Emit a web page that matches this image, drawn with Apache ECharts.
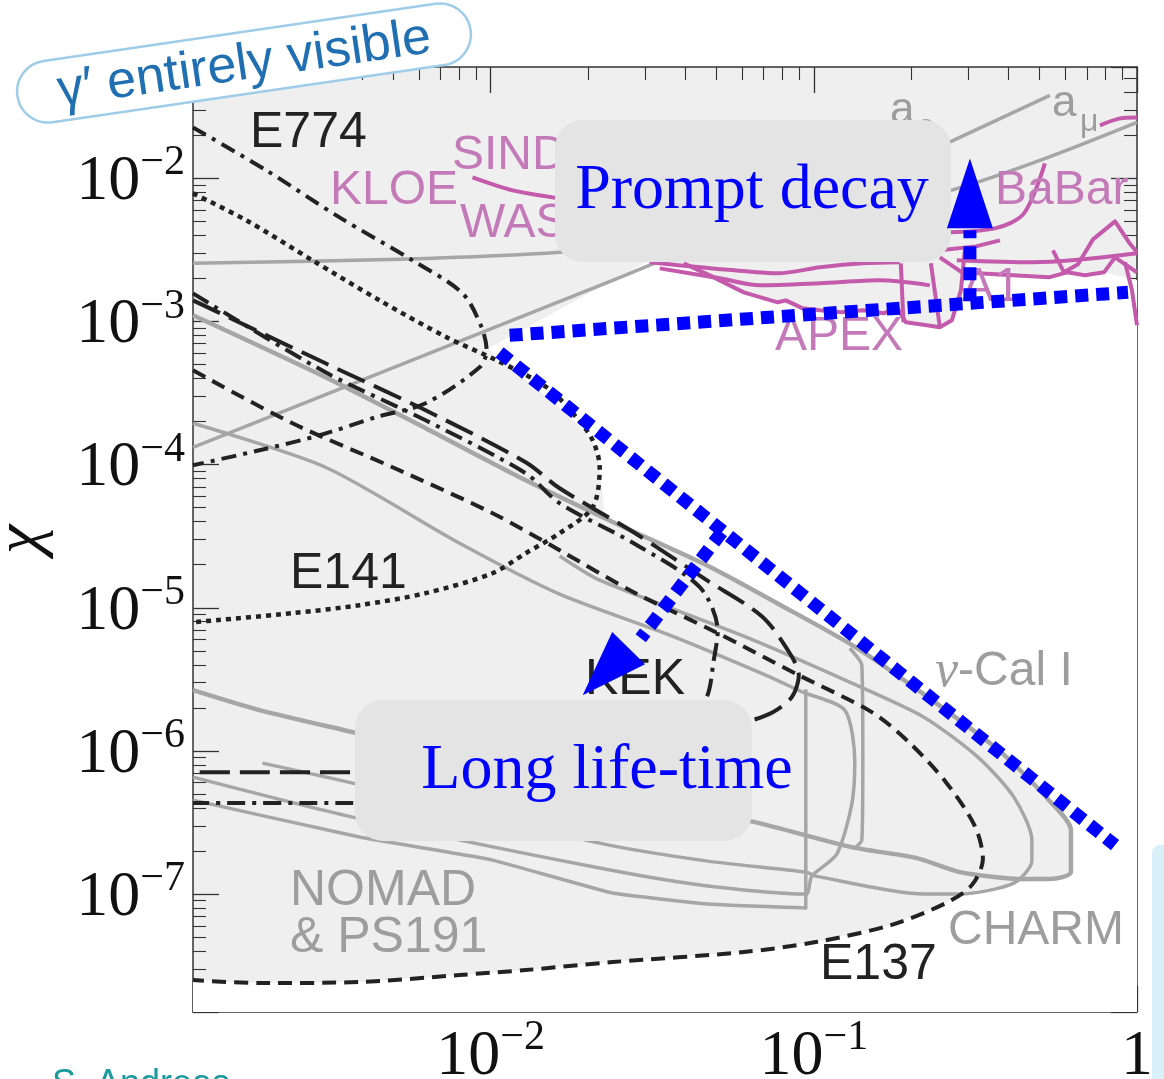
<!DOCTYPE html>
<html><head><meta charset="utf-8">
<script src="https://cdn.jsdelivr.net/npm/echarts@6/dist/echarts.min.js"></script>
<style>html,body{margin:0;padding:0;background:#fff;}#c{width:1164px;height:1079px;}</style>
</head><body><div id="c"></div>
<script>
// ---------- axes ----------
const xRange = [1.2e-3, 1];
const yRange = [1.5e-8, 0.06];
const xTickValues = [0.01, 0.1, 1];
const xTickLabels = [['10', '\u22122'], ['10', '\u22121'], ['1', '']];
const yTickValues = [1e-7, 1e-6, 1e-5, 1e-4, 1e-3, 1e-2];
const yTickLabels = [['10', '\u22127'], ['10', '\u22126'], ['10', '\u22125'], ['10', '\u22124'], ['10', '\u22123'], ['10', '\u22122']];
const yAxisTitle = '\u03c7';

// ---------- allowed (white) region ----------
const allowedRegion = [[9.86e-3,6.5e-4],[3.02e-2,2.591e-3],[3.958e-2,2.55e-3],[4.764e-2,2.102e-3],[6.072e-2,1.599e-3],[7.737e-2,1.362e-3],[9.246e-2,1.236e-3],[0.1221,1.159e-3],[0.1418,1.197e-3],[0.1647,1.141e-3],[0.1807,1.256e-3],[0.1927,9.87e-4],[0.2238,9.41e-4],[0.2455,9.11e-4],[0.2674,1.019e-3],[0.2852,1.651e-3],[0.2934,2.591e-3],[0.3766,2.102e-3],[0.534,2.036e-3],[0.6071,2.206e-3],[0.7904,2.206e-3],[1,1.94e-3],[1,1.5e-8],[1.2e-3,1.5e-8],[1.2e-3,2.509e-8],[1.927e-3,2.39e-8],[3.93e-3,2.429e-8],[8.017e-3,2.72e-8],[1.284e-2,2.946e-8],[2.386e-2,3.35e-8],[6.072e-2,3.936e-8],[0.1022,4.62e-8],[0.1732,6.07e-8],[0.2563,8.65e-8],[0.2831,1.0e-7],[0.416,1.193e-7],[0.5378,1.273e-7],[0.6247,1.424e-7],[0.6247,2.798e-7],[0.534,4.532e-7],[0.3793,9.81e-7],[0.2254,2.375e-6],[0.133,5.393e-6],[7.904e-2,1.043e-5],[4.663e-2,1.983e-5],[2.893e-2,3.162e-5],[2.254e-2,4.43e-5],[2.175e-2,9.59e-5],[2.069e-2,1.48e-4],[1.635e-2,2.517e-4],[1.284e-2,3.885e-4],[1.044e-2,5.623e-4]];

// ---------- black beam-dump contours ----------
const e774 = [[1.2e-3,2.27e-2],[2.025e-3,1.137e-2],[3.408e-3,5.34e-3],[5.735e-3,2.676e-3],[8.19e-3,1.573e-3],[9.38e-3,9.11e-4],[9.72e-3,6.29e-4],[9.245e-3,4.787e-4],[6.293e-3,2.684e-4],[4.406e-3,2.143e-4],[2.955e-3,1.604e-4],[1.927e-3,1.261e-4],[1.2e-3,9.9e-5]];
const e141 = [[1.2e-3,7.857e-3],[1.756e-3,5.089e-3],[2.811e-3,2.676e-3],[4.531e-3,1.406e-3],[7.308e-3,7.76e-4],[1.044e-2,5.358e-4],[1.491e-2,3.472e-4],[1.82e-2,2.213e-4],[2.069e-2,1.48e-4],[2.175e-2,9.59e-5],[2.069e-2,5.042e-5],[1.635e-2,3.318e-5],[1.284e-2,2.406e-5],[1.014e-2,1.744e-5],[6.293e-3,1.265e-5],[3.93e-3,1.043e-5],[2.438e-3,9.17e-6],[1.2e-3,7.93e-6]];
const e137 = [[1.2e-3,4.56e-4],[2.438e-3,1.945e-4],[4.973e-3,9.59e-5],[1.014e-2,4.578e-5],[1.635e-2,2.525e-5],[2.771e-2,1.285e-5],[4.902e-2,6.865e-6],[8.987e-2,3.382e-6],[0.1512,1.866e-6],[0.1968,1.152e-6],[0.2563,6.05e-7],[0.315,2.985e-7],[0.3336,1.755e-7],[0.3084,1.156e-7],[0.2563,8.65e-8],[0.1732,6.07e-8],[0.1014,4.62e-8],[6.072e-2,3.936e-8],[2.386e-2,3.35e-8],[1.284e-2,2.946e-8],[8.017e-3,2.72e-8],[3.93e-3,2.429e-8],[1.927e-3,2.39e-8],[1.2e-3,2.509e-8]];
const kek = [[1.2e-3,1.406e-3],[3.084e-3,5.105e-4],[6.293e-3,2.398e-4],[1.284e-2,1.039e-4],[1.635e-2,6.84e-5],[2.771e-2,3.372e-5],[4.663e-2,1.559e-5],[6.902e-2,8.74e-6],[8.31e-2,5.057e-6],[8.987e-2,3.382e-6],[8.55e-2,2.375e-6],[7.466e-2,1.866e-6],[6.072e-2,1.563e-6],[4.437e-2,1.229e-6],[2.175e-2,9.35e-7],[1.066e-2,7.96e-7],[3.74e-3,7.11e-7],[1.2e-3,7.11e-7]];
const orsay = [[1.2e-3,1.573e-3],[3.084e-3,4.418e-4],[6.293e-3,2.042e-4],[1.284e-2,8.71e-5],[1.635e-2,5.375e-5],[2.771e-2,2.825e-5],[4.437e-2,1.393e-5],[5.044e-2,6.865e-6],[4.902e-2,4.305e-6],[4.663e-2,2.375e-6],[4.131e-2,1.836e-6],[2.175e-2,8.63e-7],[1.066e-2,5.32e-7],[3.74e-3,4.319e-7],[1.2e-3,4.319e-7]];

// ---------- grey contours ----------
const nuCal = [[1.2e-3,1.105e-3],[3.084e-3,4.076e-4],[6.293e-3,1.795e-4],[1.284e-2,7.78e-5],[2.508e-2,3.774e-5],[4.663e-2,1.983e-5],[7.904e-2,1.043e-5],[0.133,5.393e-6],[0.2254,2.375e-6],[0.3793,9.81e-7],[0.534,4.532e-7],[0.6247,2.798e-7],[0.6247,1.424e-7],[0.5378,1.273e-7],[0.4469,1.273e-7],[0.2831,1.424e-7],[0.2084,1.784e-7],[0.1311,2.129e-7],[6.566e-2,3.183e-7],[2.175e-2,5.32e-7],[3.74e-3,1.353e-6],[1.927e-3,1.928e-6],[1.2e-3,2.658e-6]];
const nuCalEdge = [[0.1292,5.22e-6],[0.1408,3.973e-6],[0.1418,8.63e-7],[0.1408,2.383e-7],[0.1339,2.096e-7]];
const charm = [[1.635e-2,2.3e-5],[2.175e-2,1.559e-5],[6.072e-2,6.334e-6],[0.1311,2.975e-6],[0.2191,1.722e-6],[0.3219,9.05e-7],[0.416,4.757e-7],[0.4729,2.383e-7],[0.4729,1.699e-7],[0.416,1.193e-7],[0.2831,1.0e-7],[0.2191,1.0e-7],[0.1014,1.335e-7],[9.445e-2,1.424e-7],[4.695e-2,1.699e-7],[2.175e-2,2.27e-7],[3.74e-3,5.96e-7],[1.968e-3,8.22e-7]];
const ps191 = [[1.2e-3,1.945e-4],[3.084e-3,9.59e-5],[8.017e-3,2.825e-5],[1.635e-2,1.245e-5],[3.582e-2,6.437e-6],[7.102e-2,3.382e-6],[9.246e-2,2.574e-6],[0.1247,1.928e-6],[0.1339,8.49e-7],[0.1311,4.25e-7],[0.1178,1.902e-7],[9.858e-2,1.335e-7],[9.445e-2,1.0e-7],[4.695e-2,1.137e-7],[2.175e-2,1.519e-7],[3.74e-3,3.449e-7],[1.2e-3,6.56e-7]];
const nomad = [[1.2e-3,4.532e-7],[3.93e-3,2.501e-7],[1.014e-2,1.727e-7],[2.386e-2,1.016e-7],[4.695e-2,8.51e-8],[9.445e-2,7.98e-8],[9.445e-2,2.03e-7],[9.445e-2,8.63e-7],[9.445e-2,2.701e-6]];
const aE = [[1.2e-3,1.323e-4],[2.386e-2,1.94e-3],[0.2581,1.756e-2],[0.5378,3.8e-2]];
const aMu = [[1.2e-3,2.55e-3],[5.227e-3,2.72e-3],[1.635e-2,3.042e-3],[4.437e-2,3.873e-3],[0.1292,5.787e-3],[0.2655,8.245e-3],[0.5008,1.335e-2],[1,2.461e-2]];

// ---------- pink (visible-decay) contours ----------
const pinkSind = [[8.79e-3,1.016e-2],[1.17e-2,8.245e-3],[1.556e-2,7.37e-3],[2.175e-2,6.48e-3]];
const pinkA = [[3.106e-2,2.591e-3],[4.469e-2,2.39e-3],[5.692e-2,2.278e-3],[7.737e-2,2.171e-3],[0.1044,2.39e-3],[0.1418,2.55e-3],[0.1846,2.591e-3]];
const pinkApex = [[3.958e-2,2.55e-3],[4.764e-2,2.102e-3],[6.072e-2,1.599e-3],[6.852e-2,1.476e-3],[7.737e-2,1.362e-3],[8.189e-2,1.406e-3],[9.246e-2,1.236e-3],[0.1044,1.197e-3],[0.1221,1.159e-3],[0.1418,1.197e-3],[0.1647,1.141e-3],[0.1807,1.256e-3],[0.1927,9.87e-4],[0.2238,9.41e-4],[0.2455,9.11e-4],[0.2674,1.019e-3],[0.2852,1.651e-3],[0.2934,3.142e-3]];
const pinkC = [[3.336e-2,2.352e-3],[5.117e-2,2.003e-3],[6.804e-2,1.789e-3],[0.1044,1.848e-3],[0.16,1.94e-3],[0.2286,1.789e-3]];
const pinkD = [[0.1859,2.55e-3],[0.1894,9.87e-4]];
const pinkE = [[0.2302,2.55e-3],[0.2455,9.11e-4]];
const pinkBabarEdge = [[0.2455,4.196e-3],[0.3634,4.475e-3],[0.4469,5.695e-3],[0.5189,1.273e-2]];
const pinkG = [[0.2455,3.142e-3],[0.3172,3.35e-3],[0.3766,3.69e-3]];
const pinkA1 = [[0.2771,2.676e-3],[0.4764,2.591e-3],[1,2.994e-3]];
const pinkI = [[0.2455,2.808e-3],[0.2872,2.206e-3],[0.4131,2.102e-3],[0.534,2.036e-3],[0.6071,2.206e-3],[0.6902,2.102e-3],[0.7904,2.206e-3],[0.855,2.808e-3],[1,2.206e-3]];
const pinkBabar = [[0.5495,3.142e-3],[0.5943,2.206e-3],[0.6568,2.509e-3],[0.7308,3.75e-3],[0.855,5.008e-3],[0.9445,3.572e-3],[1,3.042e-3]];
const pinkK = [[0.9179,2.591e-3],[0.965,1.651e-3],[1,9.41e-4]];
const pinkTop = [[0.7683,2.345e-2],[0.8858,2.624e-2],[1,2.667e-2]];

// ---------- blue annotations ----------
const bluePrompt = [[1.145e-2,8.01e-4],[0.938,1.599e-3]];
const blueLong = [[1.066e-2,6.09e-4],[0.855,2.198e-7]];
const blueUpShaft = [[0.3041,1.384e-3],[0.3041,4.334e-3]];
const blueDownShaft = [[5.19e-2,3.372e-5],[2.914e-2,6.13e-6]];
const arrowHeads = [[0.3041,1.379e-2,0.3041,4.475e-3],[1.927e-2,2.453e-6,2.674e-2,5.22e-6]];

// ---------- styling helpers ----------
const BLACK = '#222', GREY = '#a6a6a6', PINK = '#c45aab', BLUE = '#0000ff';
function curve(data, color, width, dash, z, smooth) {
  return { type: 'line', data: data, xAxisIndex: 0, yAxisIndex: 0, symbol: 'none', showSymbol: false,
    smooth: smooth, z: z, silent: true, clip: true,
    lineStyle: { color: color, width: width, type: dash, cap: 'butt', join: 'round' } };
}
function tickFmt(values, labels) {
  return function (v) {
    const i = values.findIndex(t => Math.abs(Math.log10(t) - Math.log10(v)) < 1e-6);
    if (i < 0) return '';
    const l = labels[i];
    return l[1] ? '{b|' + l[0] + '}{s|' + l[1] + '}' : '{b|' + l[0] + '}';
  };
}
const rich = {
  b: { fontFamily: '"Liberation Serif", serif', fontSize: 64, lineHeight: 72, color: '#111', verticalAlign: 'bottom' },
  s: { fontFamily: '"Liberation Serif", serif', fontSize: 42, lineHeight: 40, color: '#111', verticalAlign: 'top' }
};
const axisCommon = {
  type: 'log', logBase: 10,
  axisLine: { show: true, onZero: false, lineStyle: { color: '#333', width: 1.5 } },
  axisTick: { show: true, inside: true, length: 26, lineStyle: { color: '#333', width: 1.3 } },
  minorTick: { show: true, splitNumber: 9, length: 13, lineStyle: { color: '#333', width: 1.1 } },
  splitLine: { show: false }, minorSplitLine: { show: false }
};

const labelFont = '"Liberation Sans", Arial, sans-serif';
function lbl(text, x, y, color, size) {
  return { type: 'text', z: 50, silent: true, style: { text: text, x: x, y: y, fill: color,
    font: size + 'px ' + labelFont, align: 'left', verticalAlign: 'middle', textAlign: 'left', textVerticalAlign: 'middle' } };
}
const PINKTXT = '#c47ab8', GREYTXT = '#9d9d9d';

const option = {
  animation: false,
  backgroundColor: '#ffffff',
  grid: { left: 193, right: 27, top: 67, bottom: 67, show: true, backgroundColor: '#efefef', borderWidth: 0,
    containLabel: false, outerBoundsMode: 'none' },
  xAxis: [
    Object.assign({}, axisCommon, { min: xRange[0], max: xRange[1], position: 'bottom',
      axisLabel: { show: true, margin: 5, formatter: tickFmt(xTickValues, xTickLabels), rich: rich } }),
    Object.assign({}, axisCommon, { min: xRange[0], max: xRange[1], position: 'top', axisLabel: { show: false } })
  ],
  yAxis: [
    Object.assign({}, axisCommon, { min: yRange[0], max: yRange[1], position: 'left',
      name: yAxisTitle, nameLocation: 'middle', nameGap: 138, nameRotate: 90,
      nameTextStyle: { fontFamily: '"Liberation Serif", serif', fontStyle: 'italic', fontSize: 66, color: '#111' },
      axisLabel: { show: true, margin: 8, formatter: tickFmt(yTickValues, yTickLabels), rich: rich } }),
    Object.assign({}, axisCommon, { min: yRange[0], max: yRange[1], position: 'right', axisLabel: { show: false } })
  ],
  series: [
    { type: 'custom', coordinateSystem: 'cartesian2d', xAxisIndex: 0, yAxisIndex: 0, z: 1, silent: true,
      data: [[1e-2, 1e-4]],
      renderItem: function (params, api) {
        return { type: 'polygon', shape: { points: allowedRegion.map(p => api.coord(p)) }, style: { fill: '#ffffff' } };
      } },
    // grey
    curve(aE, GREY, 3.5, 'solid', 3, false),
    curve(aMu, GREY, 3.5, 'solid', 3, 0.3),
    curve(nuCal, GREY, 4.5, 'solid', 3, 0.25),
    curve(nuCalEdge, GREY, 3.5, 'solid', 3, 0.2),
    curve(charm, GREY, 3.5, 'solid', 3, 0.25),
    curve(ps191, GREY, 3.5, 'solid', 3, 0.25),
    curve(nomad, GREY, 3.5, 'solid', 3, 0.1),
    // pink
    curve(pinkSind, PINK, 4, 'solid', 3, 0.3),
    curve(pinkA, PINK, 4, 'solid', 3, 0.3),
    curve(pinkApex, PINK, 4, 'solid', 3, false),
    curve(pinkC, PINK, 4, 'solid', 3, 0.3),
    curve(pinkD, PINK, 4, 'solid', 3, false),
    curve(pinkE, PINK, 4, 'solid', 3, false),
    curve(pinkBabarEdge, PINK, 4, 'solid', 3, 0.3),
    curve(pinkG, PINK, 4, 'solid', 3, false),
    curve(pinkA1, PINK, 4, 'solid', 3, 0.3),
    curve(pinkI, PINK, 4, 'solid', 3, false),
    curve(pinkBabar, PINK, 4, 'solid', 3, false),
    curve(pinkK, PINK, 4, 'solid', 3, false),
    curve(pinkTop, PINK, 4, 'solid', 3, 0.3),
    // black
    curve(e774, BLACK, 4, [15, 7, 4, 7], 4, 0.3),
    curve(e141, BLACK, 4.5, [5, 5], 4, 0.3),
    curve(e137, BLACK, 4, [14, 8], 4, 0.3),
    curve(kek, BLACK, 4, [30, 10], 4, 0.3),
    curve(orsay, BLACK, 4, [18, 7, 4, 7], 4, 0.3),
    // blue annotations
    curve(bluePrompt, BLUE, 13, [13, 8], 100, false),
    curve(blueLong, BLUE, 13, [13, 8], 100, false),
    curve(blueUpShaft, BLUE, 13, [13, 8], 100, false),
    curve(blueDownShaft, BLUE, 13, [13, 8], 100, false),
    { type: 'custom', coordinateSystem: 'cartesian2d', xAxisIndex: 0, yAxisIndex: 0, z: 101, silent: true,
      data: arrowHeads, encode: { x: [0, 2], y: [1, 3] },
      renderItem: function (params, api) {
        const tip = api.coord([api.value(0), api.value(1)]);
        const base = api.coord([api.value(2), api.value(3)]);
        const dx = tip[0] - base[0], dy = tip[1] - base[1];
        const len = Math.sqrt(dx * dx + dy * dy) || 1;
        const px = -dy / len * 23, py = dx / len * 23;
        return { type: 'polygon', shape: { points: [tip, [base[0] + px, base[1] + py], [base[0] - px, base[1] - py]] },
          style: { fill: BLUE } };
      } }
  ],
  graphic: [
    lbl('E774', 250, 133, BLACK, 50),
    lbl('SINDRUM', 452, 156, PINKTXT, 48),
    lbl('KLOE', 330, 191, PINKTXT, 48),
    lbl('WASA', 460, 224, PINKTXT, 48),
    lbl('a', 890, 111, GREYTXT, 44),
    lbl('e', 917, 127, GREYTXT, 32),
    lbl('a', 1052, 104, GREYTXT, 44),
    lbl('\u03bc', 1080, 122, GREYTXT, 32),
    lbl('BaBar', 995, 191, PINKTXT, 48),
    lbl('A1', 962, 288, PINKTXT, 48),
    lbl('APEX', 775, 337, PINKTXT, 48),
    lbl('E141', 290, 574, BLACK, 50),
    lbl('KEK', 585, 680, BLACK, 50),
    { type: 'text', z: 50, silent: true, style: { text: '{g|\u03bd}-Cal I', x: 935, y: 672, fill: GREYTXT,
      font: '48px ' + labelFont, verticalAlign: 'middle', textVerticalAlign: 'middle',
      rich: { g: { fontFamily: '"Liberation Serif", serif', fontStyle: 'italic', fontSize: 52, fill: GREYTXT, color: GREYTXT } } } },
    lbl('NOMAD', 290, 891, GREYTXT, 50),
    lbl('& PS191', 290, 938, GREYTXT, 50),
    lbl('CHARM', 948, 931, GREYTXT, 48),
    lbl('E137', 820, 965, BLACK, 50),
    // boxes
    { type: 'rect', z: 60, silent: true, shape: { x: 555, y: 120, width: 396, height: 142, r: 28 }, style: { fill: '#e4e4e4' } },
    { type: 'text', z: 61, silent: true, style: { text: 'Prompt decay', x: 752, y: 191, fill: BLUE,
      font: '64px "Liberation Serif", serif', align: 'center', verticalAlign: 'middle', textAlign: 'center', textVerticalAlign: 'middle' } },
    { type: 'rect', z: 60, silent: true, shape: { x: 355, y: 700, width: 397, height: 141, r: 28 }, style: { fill: '#e4e4e4' } },
    { type: 'text', z: 61, silent: true, style: { text: 'Long life-time', x: 607, y: 771, fill: BLUE,
      font: '64px "Liberation Serif", serif', align: 'center', verticalAlign: 'middle', textAlign: 'center', textVerticalAlign: 'middle' } },
    // gamma' badge
    { type: 'group', x: 244, y: 63, rotation: 8.3 * Math.PI / 180, z: 300, children: [
      { type: 'rect', z: 300, silent: true, shape: { x: -229, y: -31, width: 458, height: 62, r: 31 },
        style: { fill: '#ffffff', stroke: '#9fcde8', lineWidth: 2.5 } },
      { type: 'text', z: 301, silent: true, style: { text: '\u03b3\u2032 entirely visible', x: 0, y: 2, fill: '#1f6fb2',
        font: '52px ' + labelFont, align: 'center', verticalAlign: 'middle', textAlign: 'center', textVerticalAlign: 'middle' } }
    ] },
    // page decorations
    { type: 'rect', z: 5, silent: true, shape: { x: 1152, y: 845, width: 20, height: 240, r: 8 }, style: { fill: '#d9f0f9' } },
    { type: 'text', z: 5, silent: true, style: { text: 'S. Andreas', x: 52, y: 1067, fill: '#1a9a9a',
      font: '36px ' + labelFont, verticalAlign: 'top', textVerticalAlign: 'top' } }
  ]
};

const chart = echarts.init(document.getElementById('c'), null, { renderer: 'canvas' });
chart.setOption(option);
</script>
</body></html>
